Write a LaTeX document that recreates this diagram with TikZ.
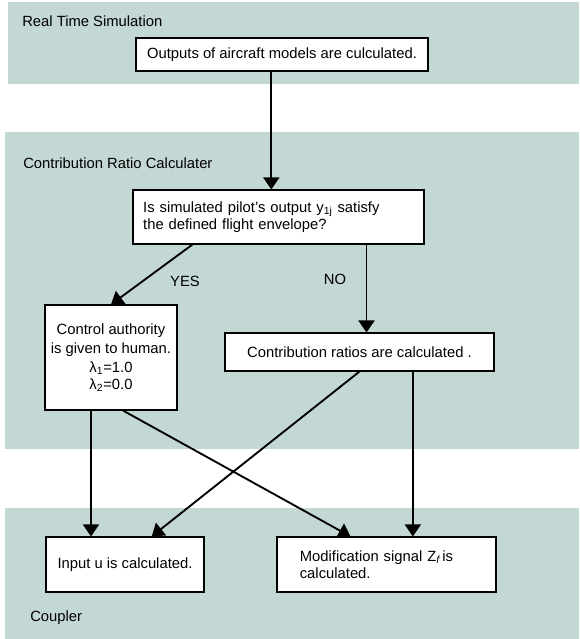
\documentclass[tikz,border=0pt]{standalone}
\usepackage{fontspec}
\setmainfont{Liberation Sans}
\usetikzlibrary{arrows.meta}
\definecolor{bandteal}{RGB}{195,215,213}

\begin{document}
\begin{tikzpicture}[x=0.75pt,y=-0.75pt,
        font=\fontsize{11.1}{12.75}\selectfont,
        box/.style={draw,fill=white,line width=0.8pt,inner sep=0pt},
        flow/.style={line width=1.4pt,-{Triangle[length=9pt,width=12pt]}},
        tag/.style={inner sep=0pt,anchor=west}]
            \useasboundingbox (0,0) rectangle (579,639);
            \fill[bandteal] (8,2) rectangle (579,84);
            \fill[bandteal] (5,132) rectangle (579,449);
            \fill[bandteal] (5,508) rectangle (579,639);

            \node (sim) at (22,21) [tag] {Real Time Simulation};
            \node (crc) at (23,163) [tag] {Contribution Ratio Calculater};
            \node (cpl) at (30,618) [tag] {Coupler};

            \node (out) at (282,54.5) [box,minimum width=219pt,minimum height=24.75pt] {Outputs of aircraft models are culculated.};
            \node (q) at (278.5,217) [box,minimum width=218.25pt,minimum height=40.5pt,text width=203pt,align=left,inner xsep=7.5pt] {Is simulated pilot's output y\textsubscript{1j} satisfy\\ the defined flight envelope?};
            \node (auth) at (111,357.5) [box,minimum width=99pt,minimum height=78.75pt,align=center] {Control authority\\[2pt] is given to human.\\[1pt] λ\textsubscript{1}=1.0\\ λ\textsubscript{2}=0.0};
            \node (ratio) at (359.5,352) [box,minimum width=201.75pt,minimum height=28.5pt] {Contribution ratios are calculated .};
            \node (inp) at (125,564.5) [box,minimum width=118.5pt,minimum height=41.25pt] {Input u is calculated.};
            \node (mod) at (386.5,564.5) [box,minimum width=164.25pt,minimum height=41.25pt,text width=130pt,align=left,inner xsep=17pt] {Modification signal Z\textsubscript{\itshape f}\,is\\ calculated.};

            \node (yes) at (185,281) {YES};
            \node (no) at (335,279) {NO};

            \draw[flow] ([xshift=-8pt]out.south) -- ([xshift=-8pt]out.south |- q.north);
            \draw[flow] ([xshift=45pt]q.south west) -- (auth.north);
            \draw[flow] ([xshift=66pt]q.south) -- ([xshift=66pt]q.south |- ratio.north);
            \draw[flow] ([xshift=-15pt]auth.south) -- ([xshift=-15pt]auth.south |- inp.north);
            \draw[flow] ([xshift=9pt]auth.south) -- ([xshift=-27pt]mod.north);
            \draw[flow] (ratio.south) -- ([xshift=20pt]inp.north);
            \draw[flow] ([xshift=40pt]ratio.south) -- ([xshift=40pt]ratio.south |- mod.north);

        \end{tikzpicture}
\end{document}
